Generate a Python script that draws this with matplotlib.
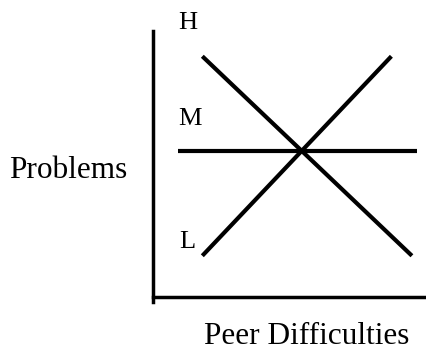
import matplotlib.pyplot as plt

# Conceptual chart: problem level vs peer difficulties (axis units 0-10)
line_names = ["decreasing", "increasing", "flat"]
line_x = [[1.8, 9.45], [1.8, 8.7], [0.9, 9.65]]
line_y = [[9.05, 1.55], [1.55, 9.05], [5.5, 5.5]]

level_labels = ["H", "M", "L"]
level_x = [1.28, 1.35, 1.24]
level_y = [10.3, 6.7, 2.05]

plt.rcParams['font.family'] = ['Liberation Serif', 'DejaVu Serif']

fig = plt.figure(figsize=(4.27, 3.53), dpi=100)
ax = fig.add_axes([153 / 427, 56 / 353, 274 / 427, 266 / 353])
ax.set_xlim(0, 10)
ax.set_ylim(0, 10)

for xs, ys in zip(line_x, line_y):
    ax.plot(xs, ys, color="black", lw=3.0, solid_capstyle="butt")

for lab, x, y in zip(level_labels, level_x, level_y):
    ax.text(x, y, lab, fontsize=19, ha="center", va="center", clip_on=False)

ax.spines["top"].set_visible(False)
ax.spines["right"].set_visible(False)
ax.spines["left"].set_linewidth(2.5)
ax.spines["bottom"].set_linewidth(2.5)
ax.spines["left"].set_bounds(-0.2, 10)
ax.set_xticks([])
ax.set_yticks([])

fig.text(68 / 427, 1 - 170 / 353, "Problems", fontsize=22.5, ha="center", va="center")
fig.text(307 / 427, 1 - 336 / 353, "Peer Difficulties", fontsize=22.5, ha="center", va="center")

fig.savefig("out.png", dpi=100)
